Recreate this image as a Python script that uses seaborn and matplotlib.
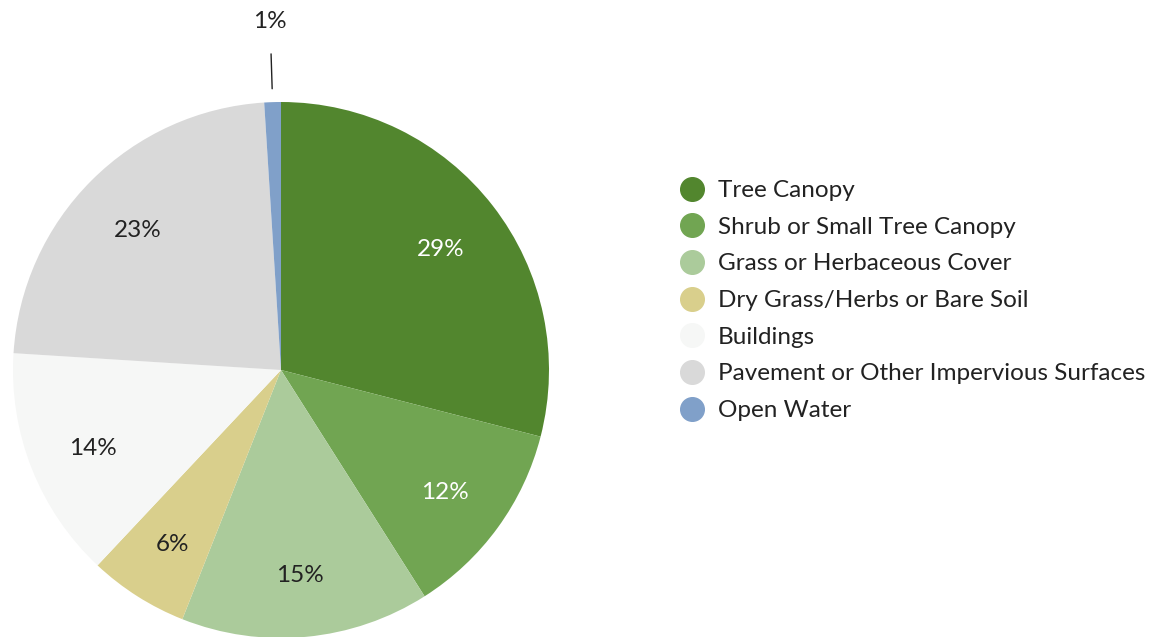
import numpy as np
import matplotlib
matplotlib.use("Agg")
import matplotlib.pyplot as plt
from matplotlib.lines import Line2D
import seaborn as sns

categories = ["Tree Canopy", "Shrub or Small Tree Canopy", "Grass or Herbaceous Cover",
              "Dry Grass/Herbs or Bare Soil", "Buildings",
              "Pavement or Other Impervious Surfaces", "Open Water"]
values = [29, 12, 15, 6, 14, 23, 1]
colors = ["#52862e", "#71a552", "#abcb9b", "#d9cf8c", "#f6f7f6", "#d9d9d9", "#80a0c9"]
label_colors = ["white", "white", "#222222", "#222222", "#222222", "#222222", "#222222"]

sns.set_theme(style="white")
plt.rcParams['font.family'] = ['Lato', 'DejaVu Sans']

fig = plt.figure(figsize=(11.66, 6.37), dpi=100)
W, H = 1166, 637
cx, cy, r = 281, 370, 268
ax = fig.add_axes([(cx - r) / W, (H - cy - r) / H, 2 * r / W, 2 * r / H])

wedges, _ = ax.pie(values, colors=colors, startangle=90, counterclock=False,
                   radius=1.0, wedgeprops=dict(linewidth=0))
ax.set_xlim(-1, 1)
ax.set_ylim(-1, 1)
ax.set_aspect("equal")
ax.axis("off")

FS = 17.5
for w, v, lc in zip(wedges, values, label_colors):
    ang = np.deg2rad((w.theta1 + w.theta2) / 2)
    if v < 3:
        ax.plot([1.05 * np.cos(ang), 1.18 * np.cos(ang)],
                [1.05 * np.sin(ang), 1.18 * np.sin(ang)], color="#222222", lw=1.0,
                clip_on=False)
        ax.text(1.30 * np.cos(ang), 1.30 * np.sin(ang), f"{v}%", ha="center", va="center",
                fontsize=FS, color="#222222", clip_on=False)
    else:
        ax.text(0.755 * np.cos(ang), 0.755 * np.sin(ang) - 0.014, f"{v}%", ha="center",
                va="center", fontsize=FS, color=lc)

handles = [Line2D([0], [0], marker="o", linestyle="none", markersize=17,
                  markerfacecolor=c, markeredgecolor=c) for c in colors]
fig.legend(handles, categories, loc="upper left", bbox_to_anchor=(677 / W, 1 - 180 / H),
           frameon=False, fontsize=FS, labelspacing=0.645, handletextpad=0.48,
           handlelength=1.2, borderpad=0, borderaxespad=0, labelcolor="#222222")

fig.savefig("out.png", dpi=100, facecolor="white")
